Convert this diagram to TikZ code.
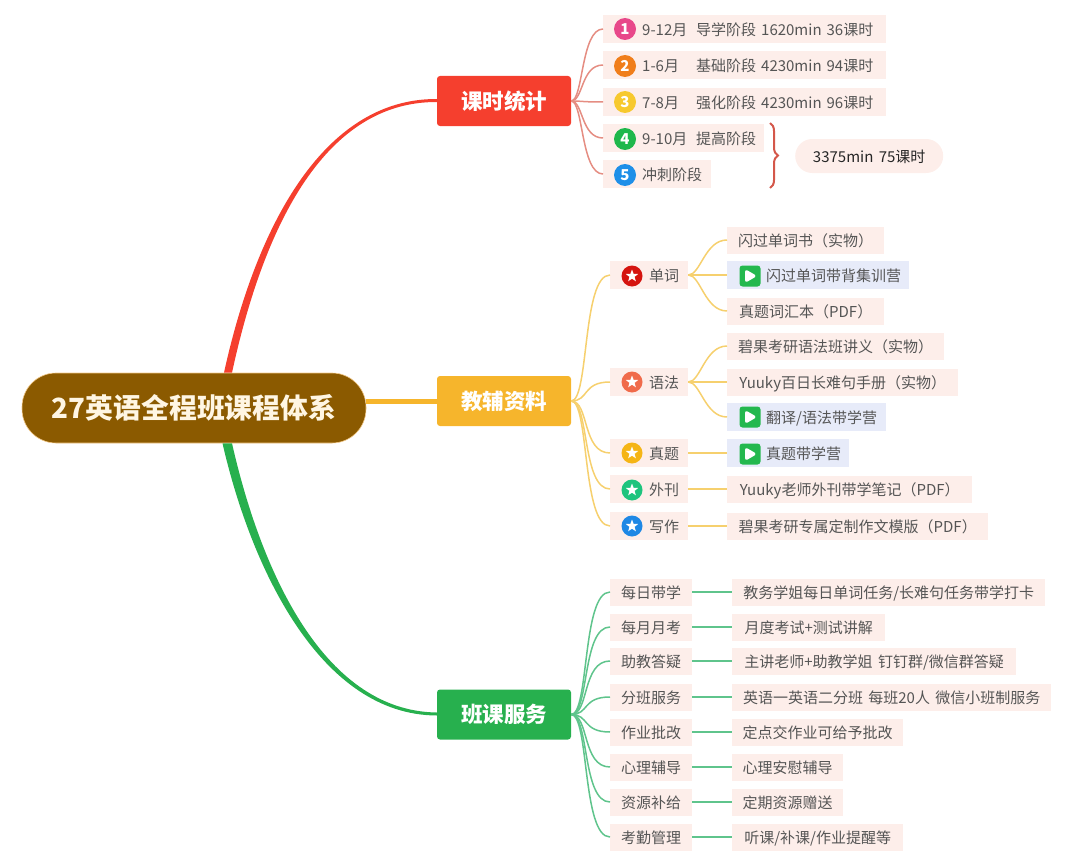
\documentclass[tikz,border=0pt]{standalone}
\usepackage{fontspec}
\usepackage{tikz}
\usetikzlibrary{decorations.pathreplacing}
\setmainfont[WordSpace=1.6]{Noto Sans CJK SC}
\definecolor{rootbrown}{HTML}{8B5A00}
\definecolor{rootedge}{HTML}{F3C98A}
\definecolor{rootword}{HTML}{FFF6E3}
\definecolor{hoursred}{HTML}{F53F2E}
\definecolor{booksyellow}{HTML}{F6B52C}
\definecolor{servicegreen}{HTML}{27B04E}
\definecolor{hourslink}{HTML}{E58D82}
\definecolor{bookslink}{HTML}{F6D06E}
\definecolor{servicelink}{HTML}{5FC48C}
\definecolor{bracered}{HTML}{D4574A}
\definecolor{leafpink}{HTML}{FDEEEA}
\definecolor{leafblue}{HTML}{E7EBF9}
\definecolor{leafword}{HTML}{555555}
\definecolor{playgreen}{HTML}{24B84E}
\definecolor{badgepink}{HTML}{E8488A}
\definecolor{badgeorange}{HTML}{F07E1B}
\definecolor{badgeyellow}{HTML}{F7C92E}
\definecolor{badgegreen}{HTML}{1EB84C}
\definecolor{badgeblue}{HTML}{1E8FE8}
\definecolor{starred}{HTML}{D5140F}
\definecolor{starcoral}{HTML}{F06B4B}
\definecolor{staramber}{HTML}{F5B516}
\definecolor{stargreen}{HTML}{1EC47E}
\definecolor{starblue}{HTML}{1E88E5}
\tikzset{
	leaf/.style={anchor=west, fill=leafpink, text=leafword, font=\fontsize{15}{17}\selectfont, inner xsep=0pt, inner ysep=0pt, text height=15pt, text depth=2pt, minimum height=27pt},
	iconleaf/.style={leaf, align=left, minimum height=28pt, execute at begin node=\hspace*{39pt}},
	playleaf/.style={iconleaf, fill=leafblue},
	topic/.style={fill=#1, text=white, rounded corners=3pt, minimum width=134pt, minimum height=50pt, inner sep=0pt, font=\fontsize{21.5}{25}\bfseries\selectfont},
	numbadge/.style={circle, fill=#1, text=white, minimum size=22pt, inner sep=0pt, font=\fontsize{15}{17}\bfseries\selectfont},
	starbadge/.style={circle, fill=#1, minimum size=21pt, inner sep=0pt, path picture={
		\fill [white, shift={(path picture bounding box.center)}] (90:6.5pt) -- (126:2.7pt) -- (162:6.5pt) -- (198:2.7pt) -- (234:6.5pt) -- (270:2.7pt) -- (306:6.5pt) -- (342:2.7pt) -- (18:6.5pt) -- (54:2.7pt) -- cycle;
	}},
	playicon/.style={fill=playgreen, rounded corners=3pt, minimum size=21pt, inner sep=0pt, path picture={
		\fill [white, shift={(path picture bounding box.center)}] (-5pt, 7pt) -- (7pt, 0pt) -- (-5pt, -7pt) -- cycle;
	}},
	longlink/.style={line width=1.5pt, to path={.. controls +(18, 0) and +(-28, 0) .. (\tikztotarget)}},
	shortlink/.style={line width=1.5pt, to path={.. controls +(12, 0) and +(-22, 0) .. (\tikztotarget)}},
	flatlink/.style={line width=1.5pt},
}
\begin{document}
\begin{tikzpicture}[x=1pt, y=-1pt]
		\useasboundingbox (0, 0) rectangle (1080, 867);
		\node (root) at (194, 408) [fill=rootbrown, draw=rootedge, line width=0.6pt, text=rootword, rounded corners=34pt, minimum width=344pt, minimum height=70pt, inner sep=0pt, font=\fontsize{27.8}{32}\bfseries\selectfont] {27英语全程班课程体系};
		\node (hours) at (504, 101) [topic=hoursred] {课时统计};
		\node (books) at (504, 401) [topic=booksyellow] {教辅资料};
		\node (service) at (504, 714.5) [topic=servicegreen] {班课服务};
		\fill [hoursred] ([xshift=30pt]root.north) .. controls (254.5, 233.5) and (320, 98.5) .. ([yshift=2pt]hours.west) -- ([yshift=-1pt]hours.west) .. controls (320, 101.5) and (261.5, 236.5) .. ([xshift=38pt]root.north) -- cycle;
		\draw [booksyellow, line width=5pt] ([yshift=7pt]root.east) -- (books.west);
		\fill [servicegreen] ([xshift=28.5pt]root.south) .. controls (251, 567.5) and (320, 715) .. ([yshift=-1pt]service.west) -- ([yshift=2pt]service.west) .. controls (320, 711) and (259, 562.5) .. ([xshift=38pt]root.south) -- cycle;

		\node (stagea) at (603, 29) [iconleaf, text width=283pt] {\makebox[54pt][l]{9-12月}导学阶段 1620min 36课时};
		\node (stageb) at (603, 65) [iconleaf, text width=283pt] {\makebox[54pt][l]{1-6月}基础阶段 4230min 94课时};
		\node (stagec) at (603, 102) [iconleaf, text width=283pt] {\makebox[54pt][l]{7-8月}强化阶段 4230min 96课时};
		\node (staged) at (603, 138) [iconleaf, text width=161pt] {\makebox[54pt][l]{9-10月}提高阶段};
		\node (stagee) at (603, 174) [iconleaf, text width=108pt] {冲刺阶段};
		\node (numa) at (625, 29) [numbadge=badgepink] {1};
		\node (numb) at (625, 66) [numbadge=badgeorange] {2};
		\node (numc) at (625, 102) [numbadge=badgeyellow] {3};
		\node (numd) at (625, 139) [numbadge=badgegreen] {4};
		\node (nume) at (625, 175) [numbadge=badgeblue] {5};
		\draw [hourslink, shortlink] (hours.east) to (stagea.west);
		\draw [hourslink, shortlink] (hours.east) to (stageb.west);
		\draw [hourslink, shortlink] (hours.east) to (stagec.west);
		\draw [hourslink, shortlink] (hours.east) to (staged.west);
		\draw [hourslink, shortlink] (hours.east) to (stagee.west);
		\coordinate (bracetop) at (770, 123);
		\coordinate (bracebottom) at (770, 188);
		\draw [bracered, line width=2pt, decorate, decoration={brace, amplitude=8pt}] (bracetop) -- (bracebottom);
		\node (total) at (795, 156) [leaf, text=black!85, rounded corners=17pt, minimum width=148pt, minimum height=34pt] {3375min 75课时};

		\node (words) at (610, 275) [iconleaf, text width=78pt] {单词};
		\node (grammar) at (610, 382) [iconleaf, text width=78pt] {语法};
		\node (exams) at (610, 453) [iconleaf, text width=78pt] {真题};
		\node (press) at (610, 489) [iconleaf, text width=78pt] {外刊};
		\node (essay) at (610, 526) [iconleaf, text width=78pt] {写作};
		\node (stara) at (632, 276) [starbadge=starred] {};
		\node (starb) at (632, 382) [starbadge=starcoral] {};
		\node (starc) at (632, 453) [starbadge=staramber] {};
		\node (stard) at (632, 490) [starbadge=stargreen] {};
		\node (stare) at (632, 526) [starbadge=starblue] {};
		\draw [bookslink, longlink] (books.east) to (words.west);
		\draw [bookslink, longlink] (books.east) to (grammar.west);
		\draw [bookslink, longlink] (books.east) to (exams.west);
		\draw [bookslink, longlink] (books.east) to (press.west);
		\draw [bookslink, longlink] (books.east) to (essay.west);

		\node (wordsa) at (727, 240) [leaf, minimum width=157pt] {闪过单词书（实物）};
		\node (wordsb) at (727, 275) [playleaf, text width=182pt] {闪过单词带背集训营};
		\node (wordsc) at (727, 311) [leaf, minimum width=157pt] {真题词汇本（PDF）};
		\node (grammara) at (727, 346) [leaf, minimum width=217pt] {碧果考研语法班讲义（实物）};
		\node (grammarb) at (727, 382) [leaf, minimum width=231pt] {Yuuky百日长难句手册（实物）};
		\node (grammarc) at (727, 417) [playleaf, text width=159pt] {翻译/语法带学营};
		\node (examsa) at (727, 453) [playleaf, text width=122pt] {真题带学营};
		\node (pressa) at (727, 489) [leaf, minimum width=245pt] {Yuuky老师外刊带学笔记（PDF）};
		\node (essaya) at (727, 526) [leaf, minimum width=261pt] {碧果考研专属定制作文模版（PDF）};
		\node (playa) at (750, 276) [playicon] {};
		\node (playb) at (750, 417) [playicon] {};
		\node (playc) at (750, 454) [playicon] {};
		\draw [bookslink, shortlink] (words.east) to (wordsa.west);
		\draw [bookslink, shortlink] (words.east) to (wordsb.west);
		\draw [bookslink, shortlink] (words.east) to (wordsc.west);
		\draw [bookslink, shortlink] (grammar.east) to (grammara.west);
		\draw [bookslink, shortlink] (grammar.east) to (grammarb.west);
		\draw [bookslink, shortlink] (grammar.east) to (grammarc.west);
		\draw [bookslink, flatlink] (exams.east) -- (examsa.west);
		\draw [bookslink, flatlink] (press.east) -- (pressa.west);
		\draw [bookslink, flatlink] (essay.east) -- (essaya.west);

		\node (dailya) at (610, 592) [leaf, minimum width=82pt] {每日带学};
		\node (dailyb) at (732, 592) [leaf, minimum width=313pt] {教务学姐每日单词任务/长难句任务带学打卡};
		\node (montha) at (610, 627) [leaf, minimum width=82pt] {每月月考};
		\node (monthb) at (732, 627) [leaf, minimum width=153pt] {月度考试+测试讲解};
		\node (answera) at (610, 661) [leaf, minimum width=82pt] {助教答疑};
		\node (answerb) at (732, 661) [leaf, minimum width=284pt] {主讲老师+助教学姐 钉钉群/微信群答疑};
		\node (groupa) at (610, 697) [leaf, minimum width=82pt] {分班服务};
		\node (groupb) at (732, 697) [leaf, minimum width=319pt] {英语一英语二分班 每班20人 微信小班制服务};
		\node (marka) at (610, 732) [leaf, minimum width=82pt] {作业批改};
		\node (markb) at (732, 732) [leaf, minimum width=171pt] {定点交作业可给予批改};
		\node (minda) at (610, 767) [leaf, minimum width=82pt] {心理辅导};
		\node (mindb) at (732, 767) [leaf, minimum width=111pt] {心理安慰辅导};
		\node (givea) at (610, 802) [leaf, minimum width=82pt] {资源补给};
		\node (giveb) at (732, 802) [leaf, minimum width=111pt] {定期资源赠送};
		\node (checka) at (610, 837) [leaf, minimum width=82pt] {考勤管理};
		\node (checkb) at (732, 837) [leaf, minimum width=171pt] {听课/补课/作业提醒等};
		\draw [servicelink, longlink] (service.east) to (dailya.west);
		\draw [servicelink, longlink] (service.east) to (montha.west);
		\draw [servicelink, longlink] (service.east) to (answera.west);
		\draw [servicelink, longlink] (service.east) to (groupa.west);
		\draw [servicelink, longlink] (service.east) to (marka.west);
		\draw [servicelink, longlink] (service.east) to (minda.west);
		\draw [servicelink, longlink] (service.east) to (givea.west);
		\draw [servicelink, longlink] (service.east) to (checka.west);
		\draw [servicelink, flatlink] (dailya.east) -- (dailyb.west);
		\draw [servicelink, flatlink] (montha.east) -- (monthb.west);
		\draw [servicelink, flatlink] (answera.east) -- (answerb.west);
		\draw [servicelink, flatlink] (groupa.east) -- (groupb.west);
		\draw [servicelink, flatlink] (marka.east) -- (markb.west);
		\draw [servicelink, flatlink] (minda.east) -- (mindb.west);
		\draw [servicelink, flatlink] (givea.east) -- (giveb.west);
		\draw [servicelink, flatlink] (checka.east) -- (checkb.west);
	\end{tikzpicture}
\end{document}
